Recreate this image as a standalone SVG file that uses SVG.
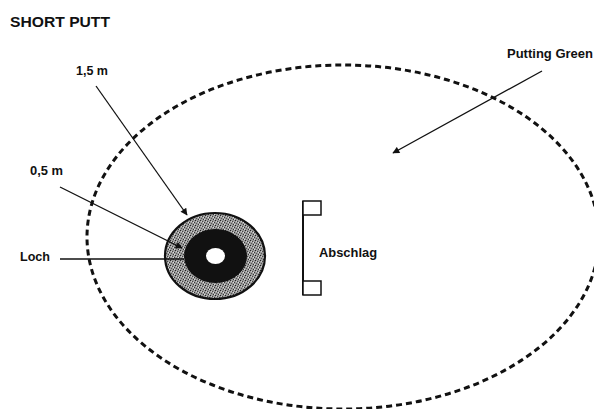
<svg xmlns="http://www.w3.org/2000/svg" width="594" height="409" viewBox="0 0 594 409">
<style>
.t{font-family:"Liberation Sans",Arial,sans-serif;font-weight:bold;fill:#111;font-size:12px}
.ln{stroke:#111;stroke-width:1.3;fill:none}
</style>
<defs>
<marker id="ah" viewBox="0 0 10 10" refX="9" refY="5" markerWidth="9" markerHeight="7" markerUnits="userSpaceOnUse" orient="auto">
<path d="M0,0 L10,5 L0,10 z" fill="#111"/>
</marker>
<pattern id="stip" width="5" height="5" patternUnits="userSpaceOnUse">
<rect width="5" height="5" fill="#9a9a9a"/>
<rect x="0" y="0" width="1" height="1" fill="#222"/>
<rect x="2" y="1" width="1" height="1" fill="#444"/>
<rect x="4" y="2" width="1" height="1" fill="#333"/>
<rect x="1" y="3" width="1" height="1" fill="#555"/>
<rect x="3" y="4" width="1" height="1" fill="#333"/>
<rect x="3" y="2" width="1" height="1" fill="#ddd"/>
<rect x="1" y="1" width="1" height="1" fill="#ccc"/>
<rect x="4" y="4" width="1" height="1" fill="#ddd"/>
</pattern>
</defs>
<rect width="594" height="409" fill="#fff"/>
<text class="t" x="10" y="27" style="font-size:15.5px" textLength="100" lengthAdjust="spacingAndGlyphs">SHORT PUTT</text>
<g id="green">
<ellipse cx="343" cy="237" rx="256" ry="172" fill="none" stroke="#111" stroke-width="3" stroke-dasharray="6 4"/>
<text class="t" x="507" y="58" textLength="86" lengthAdjust="spacingAndGlyphs">Putting Green</text>
</g>
<g id="hole">
<ellipse cx="215" cy="256" rx="50" ry="43" fill="url(#stip)" stroke="#111" stroke-width="2.2"/>
<ellipse cx="215.5" cy="256" rx="31.5" ry="27" fill="#111"/>
<ellipse cx="215.5" cy="256" rx="9.5" ry="8" fill="#fff"/>
</g>
<g id="tee">
<line x1="303" y1="201" x2="303" y2="295" stroke="#111" stroke-width="2"/>
<rect x="303" y="201" width="18" height="14" fill="#fff" stroke="#111" stroke-width="1.5"/>
<rect x="303" y="281" width="18" height="14" fill="#fff" stroke="#111" stroke-width="1.5"/>
<text class="t" x="319" y="257" textLength="58" lengthAdjust="spacingAndGlyphs">Abschlag</text>
</g>
<g id="labels">
<text class="t" x="76" y="75" textLength="32" lengthAdjust="spacingAndGlyphs">1,5 m</text>
<text class="t" x="30" y="175" textLength="33" lengthAdjust="spacingAndGlyphs">0,5 m</text>
<text class="t" x="20" y="261" textLength="30" lengthAdjust="spacingAndGlyphs">Loch</text>
</g>
<g id="connectors">
<line class="ln" x1="96" y1="86" x2="187" y2="215" marker-end="url(#ah)"/>
<line class="ln" x1="60" y1="187" x2="182" y2="248" marker-end="url(#ah)"/>
<line class="ln" x1="60" y1="259" x2="184" y2="259"/>
<line class="ln" x1="542" y1="71" x2="393" y2="153" marker-end="url(#ah)"/>
</g>
</svg>
